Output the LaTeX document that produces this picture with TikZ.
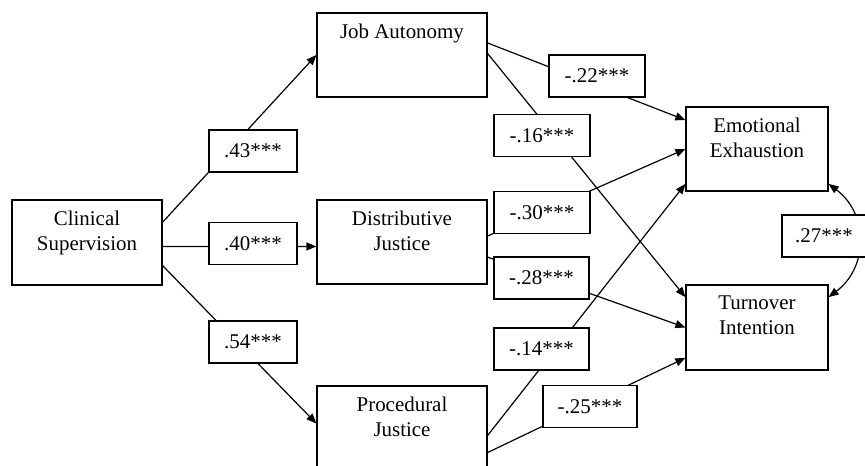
\documentclass[tikz,border=0pt]{standalone}
\usepackage{fontspec}
\setmainfont{Liberation Serif}
\usetikzlibrary{arrows.meta}

\tikzset{
  var/.style={draw, line width=0.9pt, inner sep=0pt},
  vtext/.style={anchor=north, align=center, inner sep=0pt, yshift=-8.5pt},
  coef/.style={draw, fill=white, line width=0.9pt, inner sep=0pt, minimum height=31.5pt},
  effect/.style={line width=0.9pt, -{Triangle[length=7.5pt,width=6pt]}},
}

\begin{document}
\begin{tikzpicture}[x=0.75pt,y=0.75pt,yscale=-1,xscale=1,font=\fontsize{15.7}{18.75}\selectfont]
    \useasboundingbox (0,0) rectangle (865,466);
    \clip (0,0) rectangle (865,466);

    %Shape: Rectangle [predictor]
    \node[var, minimum width=112.5pt, minimum height=63.75pt, label={[name=cs-t,vtext]north:Clinical\\Supervision}] (cs) at (87,242.5) {};
    %Shape: Rectangle [mediators]
    \node[var, minimum width=127.5pt, minimum height=63pt, label={[name=ja-t,vtext]north:Job Autonomy}] (ja) at (402,55) {};
    \node[var, minimum width=127.5pt, minimum height=63pt, label={[name=dj-t,vtext]north:Distributive\\Justice}] (dj) at (402,242) {};
    \node[var, minimum width=127.5pt, minimum height=63pt, label={[name=pj-t,vtext]north:Procedural\\Justice}] (pj) at (402,428) {};
    %Shape: Rectangle [outcomes]
    \node[var, minimum width=106.5pt, minimum height=63pt, label={[name=ee-t,vtext]north:Emotional\\Exhaustion}] (ee) at (757,149) {};
    \node[var, minimum width=106.5pt, minimum height=63.75pt, label={[name=ti-t,vtext]north:Turnover\\Intention}] (ti) at (757,327.5) {};

    %Straight Lines
    \draw[effect] (cs.15) -- (ja.west);
    \draw[effect] (cs.-3) -- (dj.183);
    \draw[effect] (cs.-17) -- (pj.177);
    \draw[effect] (ja.8) -- (ee.158);
    \draw[effect] (ja.1) -- (ti.157);
    \draw[effect] (dj.4) -- (ee.west);
    \draw[effect] (dj.-10) -- (ti.west);
    \draw[effect] (pj.-5) -- (ee.206);
    \draw[effect] (pj.-16) -- (ti.203);
    %Curve Lines
    \draw[line width=0.9pt, {Triangle[length=7.5pt,width=6pt]}-{Triangle[length=7.5pt,width=6pt]}] (ee.-26) .. controls +(40,30) and +(40,-30) .. (ti.23);

    % Text Node
    \node[coef, minimum width=66pt] (c-ja) at (253,151) {.43***};
    % Text Node
    \node[coef, minimum width=66pt] (c-dj) at (253,243.5) {.40***};
    % Text Node
    \node[coef, minimum width=66pt] (c-pj) at (253,342) {.54***};
    % Text Node
    \node[coef, minimum width=72pt] (c-ja-ee) at (597,76) {-.22***};
    % Text Node
    \node[coef, minimum width=72pt] (c-ja-ti) at (542,135.5) {-.16***};
    % Text Node
    \node[coef, minimum width=72pt] (c-dj-ee) at (542,212.5) {-.30***};
    % Text Node
    \node[coef, minimum width=71.25pt] (c-dj-ti) at (541.5,278) {-.28***};
    % Text Node
    \node[coef, minimum width=71.25pt] (c-pj-ee) at (541.5,349) {-.14***};
    % Text Node
    \node[coef, minimum width=70.5pt] (c-pj-ti) at (590,406.5) {-.25***};
    % Text Node
    \node[coef, minimum width=63pt] (c-ee-ti) at (824,236) {.27***};
\end{tikzpicture}
\end{document}
